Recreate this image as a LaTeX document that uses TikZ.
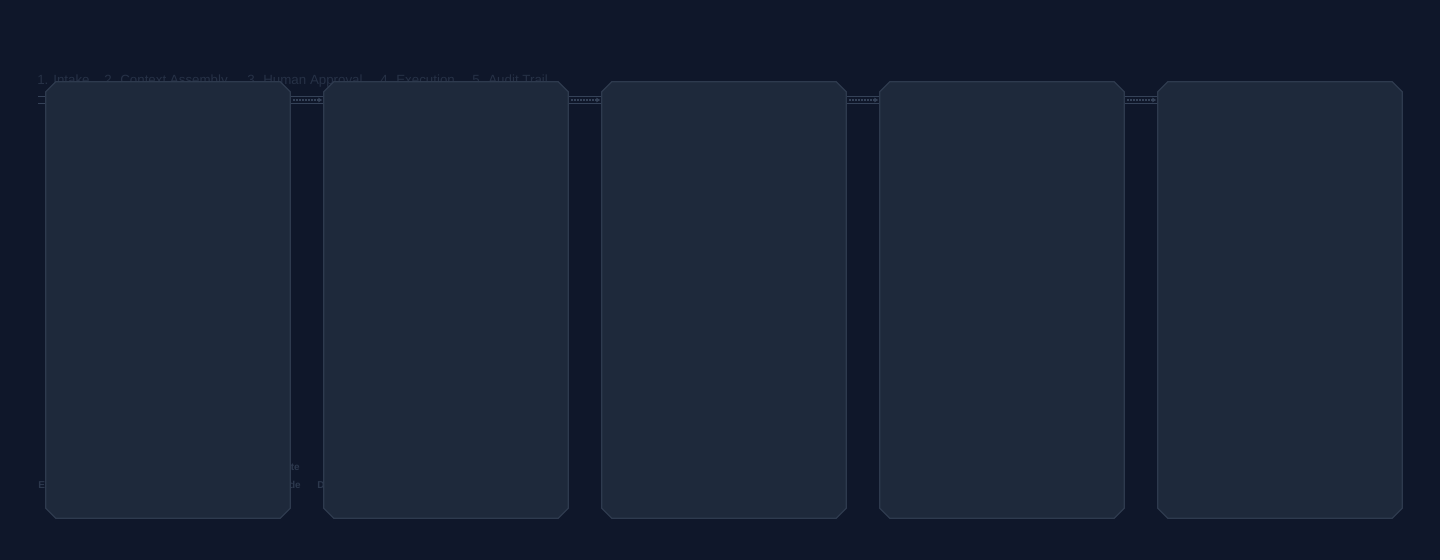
\documentclass[tikz,border=0pt]{standalone}
\usepackage{fontspec}
\setmainfont{Liberation Sans}
\usetikzlibrary{arrows.meta}
\definecolor{bgc}{HTML}{0F172A}
\definecolor{cardc}{HTML}{1E293B}
\definecolor{edgec}{HTML}{2E3A4E}
\definecolor{linkc}{HTML}{354258}
\definecolor{faintc}{HTML}{263146}
\definecolor{legc}{HTML}{2C384D}
\newcommand{\chamf}[1]{%
  \draw[cardline] ([xshift=7.5pt]#1.north west) -- ([xshift=-7.5pt]#1.north east)
    -- ([yshift=-7.5pt]#1.north east) -- ([yshift=7.5pt]#1.south east)
    -- ([xshift=-7.5pt]#1.south east) -- ([xshift=7.5pt]#1.south west)
    -- ([yshift=7.5pt]#1.south west) -- ([yshift=-7.5pt]#1.north west) -- cycle;}
\begin{document}
\begin{tikzpicture}[x=0.75pt,y=-0.75pt,
  card/.style={rectangle, minimum width=183pt, minimum height=327pt, inner sep=0pt},
  cardline/.style={fill=cardc, draw=edgec, line width=0.9pt},
  tab/.style={anchor=base west, text=faintc, font=\fontsize{10pt}{12pt}\selectfont, inner sep=0pt},
  leg/.style={anchor=base east, text=legc, font=\bfseries\fontsize{7.5pt}{9pt}\selectfont, inner sep=0pt},
  legw/.style={anchor=base west, text=legc, font=\bfseries\fontsize{7.5pt}{9pt}\selectfont, inner sep=0pt},
  link/.style={draw=linkc, line width=0.8pt, double=bgc, double distance=4.5pt},
  linkin/.style={draw=linkc, line width=0.8pt, dash pattern=on 1.5pt off 0.75pt, -{Latex[length=3pt,width=4pt]}},
]
\fill[bgc] (0,0) rectangle (1440,560);
\useasboundingbox (0,0) rectangle (1440,560);
% tabs
\node[tab] (t1) at (37,85) {1. Intake};
\node[tab] (t2) at (104,85) {2. Context Assembly};
\node[tab] (t3) at (247,85) {3. Human Approval};
\node[tab] (t4) at (380,85) {4. Execution};
\node[tab] (t5) at (472,85) {5. Audit Trail};
% legend text (mostly hidden)
\node[legw] (l1) at (38,488) {Event};
\node[leg] (l2) at (300,470) {Write};
\node[leg] (l3) at (301,488) {Node};
\node[legw] (l4) at (317,488) {Done};
% cards
\node[card] (c1) at (168,300) {};
\node[card] (c2) at (446,300) {};
\node[card] (c3) at (724,300) {};
\node[card] (c4) at (1002,300) {};
\node[card] (c5) at (1280,300) {};
% connectors
\coordinate (s0) at (38,100);
\coordinate (s0e) at (46,100);
\draw[link] (s0) -- (s0e);
\coordinate (a1) at (c1.east |- 0,100);
\coordinate (b1) at (c2.west |- 0,100);
\coordinate (a2) at (c2.east |- 0,100);
\coordinate (b2) at (c3.west |- 0,100);
\coordinate (a3) at (c3.east |- 0,100);
\coordinate (b3) at (c4.west |- 0,100);
\coordinate (a4) at (c4.east |- 0,100);
\coordinate (b4) at (c5.west |- 0,100);
\foreach \a/\b in {a1/b1,a2/b2,a3/b3,a4/b4}{
  \draw[link] (\a) -- (\b);
  \draw[linkin] ([xshift=2pt]\a) -- ([xshift=-1pt]\b);
}
\chamf{c1}\chamf{c2}\chamf{c3}\chamf{c4}\chamf{c5}
\end{tikzpicture}
\end{document}
